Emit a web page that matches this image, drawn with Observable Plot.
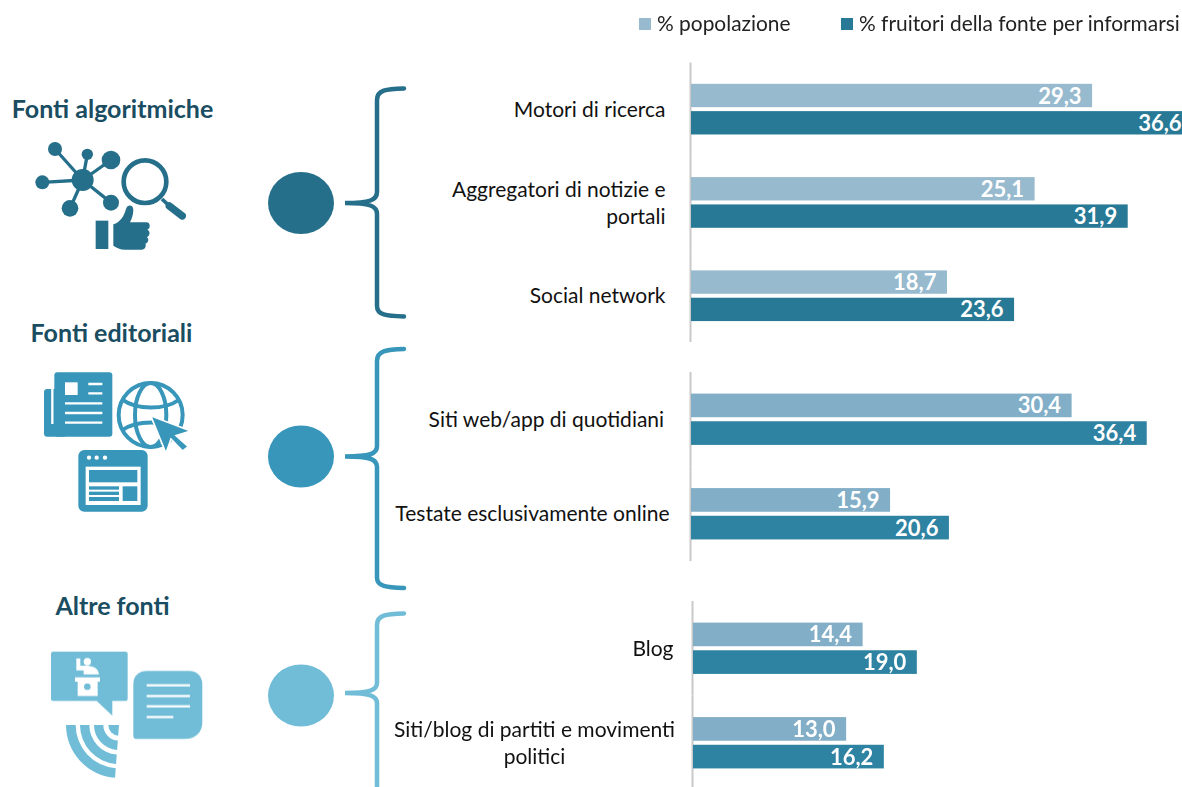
<!DOCTYPE html>
<html><head><meta charset="utf-8">
<script src="https://cdn.jsdelivr.net/npm/d3@7"></script>
<script src="https://cdn.jsdelivr.net/npm/@observablehq/plot@0.6"></script>
<style>
html,body{margin:0;padding:0;background:#fff;width:1182px;height:787px;overflow:hidden}
#page{position:relative;width:1182px;height:787px;overflow:hidden;font-family:Lato,sans-serif}
#page svg{position:absolute;left:0;top:0;background:transparent;overflow:hidden}
.lg{position:absolute;top:10px;font-size:20.9px;color:#222;white-space:nowrap;line-height:26px}
.lg i{position:absolute;left:-18px;top:8px;width:12px;height:12px}
</style></head><body><div id="page"></div>
<script>
const seriesNames = ["% popolazione", "% fruitori della fonte per informarsi"];

const catsAlgo = ["Motori di ricerca", "Aggregatori di notizie e\nportali", "Social network"];
const popAlgo = [29.3, 25.1, 18.7];
const fruAlgo = [36.6, 31.9, 23.6];

const catsEdit = ["Siti web/app di quotidiani\u00a0", "Testate esclusivamente online"];
const popEdit = [30.4, 15.9];
const fruEdit = [36.4, 20.6];

const catsAltre = ["Blog", "Siti/blog di partiti e movimenti\npolitici"];
const popAltre = [14.4, 13.0];
const fruAltre = [19.0, 16.2];

const legendColors = ["#97bace", "#277996"];
const groupTitles = ["Fonti algoritmiche", "Fonti editoriali", "Altre fonti"];
const groupColors = ["#256f8a", "#3796b9", "#71bdd8"];

const fs = 21, fsVal = 22;
const page = document.getElementById("page");

function panel({cats, pop, fru, colors, x0, px, top, step, labelDx, midLabels = []}) {
  const rows = cats.flatMap((c, i) => [
    {category: c, series: seriesNames[0], value: pop[i]},
    {category: c, series: seriesNames[1], value: fru[i]}
  ]);
  const fmt = d => d.value.toFixed(1).replace(".", ",");
  const H = Math.min(787, top + step * cats.length);
  const maxV = 37;
  return Plot.plot({
    width: 1182, height: H, marginLeft: x0, marginRight: 0, marginTop: top, marginBottom: 0,
    x: {axis: null, domain: [0, maxV], range: [x0, x0 + px * maxV]},
    y: {axis: null, domain: seriesNames, paddingInner: 0.145, paddingOuter: 0.78, round: false},
    fy: {axis: null, domain: cats, range: [top, top + step * cats.length], padding: 0, round: false},
    color: {domain: seriesNames, range: colors},
    marks: [
      Plot.ruleX([0], {stroke: "#c9c9c9", strokeWidth: 2, dx: -1}),
      Plot.barX(rows, {x: "value", y: "series", fy: "category", fill: "series"}),
      Plot.text(rows, {x: "value", y: "series", fy: "category", text: fmt, textAnchor: "end", dx: -11, dy: 0.5,
        fill: "#fff", fontWeight: 700, fontSize: fsVal, fontFamily: "Lato"}),
      Plot.text(cats.filter(c => !midLabels.includes(c)), {fy: d => d, text: d => d, frameAnchor: "left", textAnchor: "end",
        dy: -1.5, lineHeight: 27 / fs, fontSize: fs, fontFamily: "Lato", fill: "#111", dx: labelDx}),
      Plot.text(midLabels, {fy: d => d, text: d => d, frameAnchor: "left", textAnchor: "middle",
        dy: -1.5, dx: labelDx - 139, lineHeight: 27 / fs, fontSize: fs, fontFamily: "Lato", fill: "#111"})
    ]
  });
}

// Icons and brackets drawn as a Plot decoration layer (page pixels)
const decorHtml = `
<g fill="none" stroke-width="4.5" stroke-linecap="round">
 <path stroke="${groupColors[0]}" d="M404 88.5C386 89 377 90 377 100L377 192C377 200 370 203 345 203C370 203 377 206 377 214L377 306C377 315 386 316 404 316.5"/>
 <path stroke="${groupColors[1]}" d="M404 349C386 349.5 377 351 377 361L377 446C377 454 370 456.5 345 456.5C370 456.5 377 459 377 467L377 578C377 586 386 587.5 404 588"/>
 <path stroke="${groupColors[2]}" d="M404 613.5C386 614 377 615 377 625L377 683C377 690 370 693 345 693C370 693 377 696 377 703L377 790"/>
</g>
<ellipse cx="301" cy="203" rx="33" ry="31" fill="${groupColors[0]}"/>
<ellipse cx="301" cy="456.5" rx="33" ry="31" fill="${groupColors[1]}"/>
<ellipse cx="301" cy="695.5" rx="33" ry="31" fill="${groupColors[2]}"/>

<g transform="translate(30,135) scale(.3333)" fill="${groupColors[0]}" stroke="none" style="filter:blur(.4px)">
 <g stroke="${groupColors[0]}" stroke-width="10" fill="none">
  <path d="M158 135L75 42M158 135L172 58M158 135L243 75M158 135L37 142M158 135L120 220M158 135L243 203"/>
 </g>
 <circle cx="158" cy="135" r="33"/><circle cx="75" cy="42" r="21"/><circle cx="172" cy="58" r="17"/>
 <circle cx="243" cy="75" r="28"/><circle cx="37" cy="142" r="21"/><circle cx="120" cy="220" r="25"/><circle cx="243" cy="203" r="24"/>
 <circle cx="345" cy="140" r="64" fill="none" stroke="${groupColors[0]}" stroke-width="14"/>
 <path d="M396 192L420 215" stroke="${groupColors[0]}" stroke-width="11" fill="none"/>
 <path d="M418 213L457 243" stroke="${groupColors[0]}" stroke-width="22" stroke-linecap="round" fill="none"/>
 <rect x="197" y="257" width="38" height="85"/>
 <path d="M250 268C270 262 282 245 288 222C292 208 310 208 310 225C310 240 305 252 300 262L350 262C362 262 362 282 352 284C362 288 360 304 350 306C358 310 356 324 346 326C350 332 345 344 335 344L285 344C270 344 260 338 250 332Z"/>
</g>

<g transform="translate(40,365) scale(.3333)" fill="${groupColors[1]}" style="filter:blur(.3px)">
 <rect x="12" y="72" width="70" height="143" rx="10"/>
 <rect x="43" y="22" width="174" height="193" rx="9"/>
 <path d="M37 72L37 177" stroke="#fff" stroke-width="7"/>
 <rect x="75" y="52" width="38" height="38" fill="#fff"/>
 <path d="M145 57H187M145 85H187M75 115H187M75 144H187M75 173H187" stroke="#fff" stroke-width="7"/>
 <g fill="none" stroke="${groupColors[1]}" stroke-width="12">
  <circle cx="332" cy="150" r="96"/>
  <ellipse cx="332" cy="150" rx="47" ry="96"/>
  <path d="M248 105C290 135 375 135 416 105M248 195C290 165 375 165 416 195"/>
 </g>
 <path d="M332 152L452 198L408 212L445 245L428 258L393 222L378 265Z" stroke="#fff" stroke-width="5"/>
 <rect x="115" y="255" width="208" height="185" rx="18"/>
 <circle cx="147" cy="278" r="6.5" fill="#fff"/><circle cx="170" cy="278" r="6.5" fill="#fff"/><circle cx="195" cy="278" r="6.5" fill="#fff"/>
 <rect x="137" y="305" width="165" height="115" fill="#fff"/>
 <rect x="147" y="315" width="145" height="37"/><rect x="248" y="364" width="44" height="44"/>
 <rect x="147" y="364" width="90" height="10"/><rect x="147" y="380" width="90" height="10"/><rect x="147" y="396" width="90" height="12"/>
</g>

<g transform="translate(45,645) scale(.3333)" fill="${groupColors[2]}" style="filter:blur(.3px)">
 <path d="M24 20H242Q248 20 248 26V162Q248 168 242 168H202V212L155 168H24Q18 168 18 162V26Q18 20 24 20Z"/>
 <g fill="#fff">
  <circle cx="127" cy="50" r="11"/>
  <path d="M94 40H106V62H120C142 62 160 68 162 88H116V76H94Z"/>
  <rect x="90" y="97" width="75" height="13"/>
  <path d="M98 110H158V153H98Z"/>
 </g>
 <circle cx="127" cy="125" r="10"/>
 <path d="M265 118C265 92 282 78 306 78H432C458 78 472 96 472 118V232C472 262 450 282 420 282H275Q265 282 265 272Z"/>
 <path d="M305 121H435M305 153H435M305 184H435M305 216H385" stroke="#fff" stroke-width="7"/>
 <g transform="translate(222,240)">
  <path d="${d3.arc()({innerRadius: 130, outerRadius: 159, startAngle: Math.PI + 0.075, endAngle: 1.5 * Math.PI})}"/>
  <path d="${d3.arc()({innerRadius: 89, outerRadius: 117, startAngle: Math.PI + 0.075, endAngle: 1.5 * Math.PI})}"/>
  <path d="${d3.arc()({innerRadius: 47, outerRadius: 75, startAngle: Math.PI + 0.075, endAngle: 1.5 * Math.PI})}"/>
  <path d="${d3.arc()({innerRadius: 0, outerRadius: 32, startAngle: Math.PI + 0.075, endAngle: 1.5 * Math.PI})}"/>
 </g>
</g>`;

const titleRows = [
  {t: groupTitles[0], x: 112, y: 109},
  {t: groupTitles[1], x: 111, y: 333},
  {t: groupTitles[2], x: 112, y: 606}
];

page.append(Plot.plot({
  width: 1182, height: 787, margin: 0,
  x: {axis: null, domain: [0, 1182], range: [0, 1182]},
  y: {axis: null, domain: [0, 787], range: [0, 787]},
  marks: [
    () => d3.create("svg:g").html(decorHtml).node(),
    Plot.text(titleRows, {x: "x", y: "y", text: "t", fontSize: 25, fontWeight: 700, fontFamily: "Lato", fill: "#1a4d61"})
  ]
}));

page.append(panel({cats: catsAlgo, pop: popAlgo, fru: fruAlgo, colors: ["#97bace", "#277996"],
  x0: 691, px: 13.69, top: 62.5, step: 93.3, labelDx: -26}));
page.append(panel({cats: catsEdit, pop: popEdit, fru: fruEdit, colors: ["#82afc7", "#2e82a2"],
  x0: 691, px: 12.52, top: 372, step: 94.5, labelDx: -22}));
page.append(panel({cats: catsAltre, pop: popAltre, fru: fruAltre, colors: ["#82afc7", "#2e82a2"],
  x0: 693, px: 11.78, top: 601, step: 94.5, labelDx: -20, midLabels: [catsAltre[1]]}));

[[657, 0], [859, 1]].forEach(([left, i]) => {
  const d = document.createElement("div");
  d.className = "lg"; d.style.left = left + "px";
  d.innerHTML = `<i style="background:${legendColors[i]}"></i>` + seriesNames[i];
  page.append(d);
});
</script></body></html>
